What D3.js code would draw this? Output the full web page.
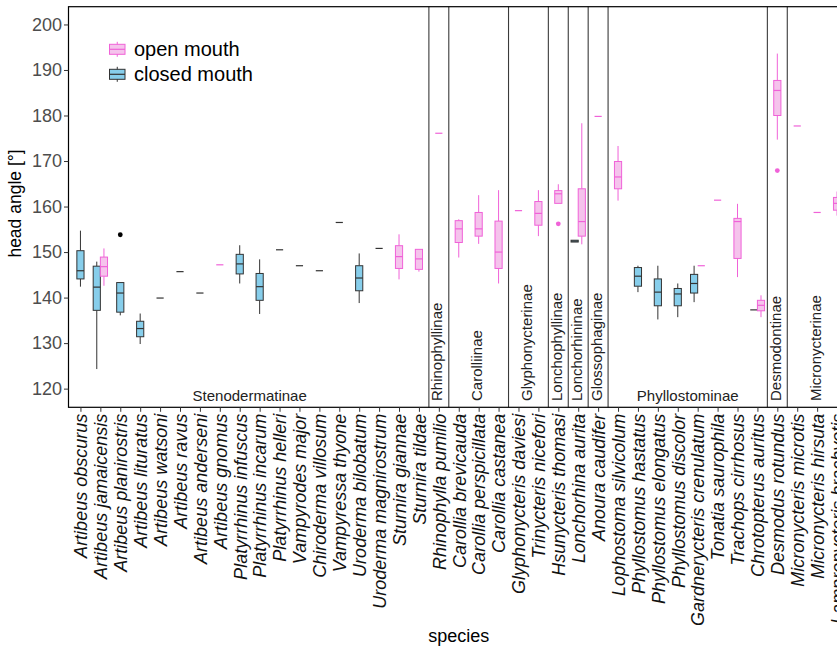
<!DOCTYPE html>
<html>
<head>
<meta charset="utf-8">
<script src="https://cdn.jsdelivr.net/npm/d3@7"></script>
<style>
  html, body { margin: 0; padding: 0; background: #fff; }
  svg { display: block; }
</style>
</head>
<body>
<svg id="chart" width="837" height="647"></svg>
<script>
// ---------- DATA ----------
const species = [
  "Artibeus obscurus","Artibeus jamaicensis","Artibeus planirostris","Artibeus lituratus",
  "Artibeus watsoni","Artibeus ravus","Artibeus anderseni","Artibeus gnomus",
  "Platyrrhinus infuscus","Platyrrhinus incarum","Platyrrhinus helleri","Vampyrodes major",
  "Chiroderma villosum","Vampyressa thyone","Uroderma bilobatum","Uroderma magnirostrum",
  "Sturnira giannae","Sturnira tildae","Rhinophylla pumilio","Carollia brevicauda",
  "Carollia perspicillata","Carollia castanea","Glyphonycteris daviesi","Trinycteris nicefori",
  "Hsunycteris thomasi","Lonchorhina aurita","Anoura caudifer","Lophostoma silvicolum",
  "Phyllostomus hastatus","Phyllostomus elongatus","Phyllostomus discolor","Gardnerycteris crenulatum",
  "Tonatia saurophila","Trachops cirrhosus","Chrotopterus auritus","Desmodus rotundus",
  "Micronycteris microtis","Micronycteris hirsuta","Lampronycteris brachyotis"
];

// subfamily name and number of species (in order)
const families = [
  ["Stenodermatinae", 18], ["Rhinophyllinae", 1], ["Carolliinae", 3], ["Glyphonycterinae", 2],
  ["Lonchophyllinae", 1], ["Lonchorhininae", 1], ["Glossophaginae", 1], ["Phyllostominae", 8],
  ["Desmodontinae", 1], ["Micronycterinae", 3]
];

// [species, lower whisker, Q1, median, Q3, upper whisker]
const closedBoxes = [
  ["Artibeus obscurus", 142.4, 144.1, 145.9, 150.3, 154.7],
  ["Artibeus jamaicensis", 124.3, 137.2, 142.3, 146.9, 147.9],
  ["Artibeus planirostris", 136.1, 136.8, 141.0, 143.3, 143.3],
  ["Artibeus lituratus", 129.8, 131.4, 133.2, 134.8, 136.5],
  ["Artibeus watsoni", 139.9, 139.9, 139.9, 139.9, 139.9],
  ["Artibeus ravus", 145.7, 145.7, 145.7, 145.7, 145.7],
  ["Artibeus anderseni", 141.0, 141.0, 141.0, 141.0, 141.0],
  ["Platyrrhinus infuscus", 143.1, 145.2, 147.4, 149.5, 151.5],
  ["Platyrrhinus incarum", 136.4, 139.4, 142.4, 145.3, 148.4],
  ["Platyrrhinus helleri", 150.5, 150.5, 150.5, 150.5, 150.5],
  ["Vampyrodes major", 147.0, 147.0, 147.0, 147.0, 147.0],
  ["Chiroderma villosum", 145.9, 145.9, 145.9, 145.9, 145.9],
  ["Vampyressa thyone", 156.5, 156.5, 156.5, 156.5, 156.5],
  ["Uroderma bilobatum", 138.8, 141.5, 144.3, 147.0, 149.7],
  ["Uroderma magnirostrum", 150.8, 150.8, 150.8, 150.8, 150.8],
  ["Lonchorhina aurita", 152.2, 152.2, 152.4, 152.6, 152.6],
  ["Phyllostomus hastatus", 141.2, 142.5, 144.7, 146.6, 147.0],
  ["Phyllostomus elongatus", 135.2, 138.2, 141.2, 144.1, 147.0],
  ["Phyllostomus discolor", 135.7, 138.2, 140.8, 142.0, 143.1],
  ["Gardnerycteris crenulatum", 139.0, 141.0, 143.1, 145.1, 147.0],
  ["Chrotopterus auritus", 137.3, 137.3, 137.3, 137.3, 137.3]
];

const openBoxes = [
  ["Artibeus jamaicensis", 142.6, 144.7, 146.8, 148.9, 150.8],
  ["Artibeus gnomus", 147.2, 147.2, 147.2, 147.2, 147.2],
  ["Sturnira giannae", 144.0, 146.4, 149.0, 151.4, 153.9],
  ["Sturnira tildae", 145.7, 146.2, 148.5, 150.6, 150.6],
  ["Rhinophylla pumilio", 176.1, 176.1, 176.1, 176.1, 176.1],
  ["Carollia brevicauda", 148.8, 152.1, 155.1, 156.9, 157.2],
  ["Carollia perspicillata", 151.8, 153.5, 155.1, 158.7, 162.5],
  ["Carollia castanea", 143.1, 146.4, 150.0, 156.8, 163.6],
  ["Glyphonycteris daviesi", 159.1, 159.1, 159.1, 159.1, 159.1],
  ["Trinycteris nicefori", 153.5, 155.9, 158.5, 161.1, 163.6],
  ["Hsunycteris thomasi", 160.7, 160.7, 162.8, 163.5, 164.9],
  ["Lonchorhina aurita", 151.7, 153.5, 156.7, 163.9, 178.3],
  ["Anoura caudifer", 179.8, 179.8, 179.8, 179.8, 179.8],
  ["Lophostoma silvicolum", 161.3, 163.9, 166.5, 169.9, 173.3],
  ["Gardnerycteris crenulatum", 147.0, 147.0, 147.0, 147.0, 147.0],
  ["Tonatia saurophila", 161.4, 161.4, 161.4, 161.4, 161.4],
  ["Trachops cirrhosus", 144.5, 148.6, 156.7, 157.4, 160.6],
  ["Chrotopterus auritus", 135.7, 137.1, 138.3, 139.4, 140.5],
  ["Desmodus rotundus", 174.7, 180.0, 185.5, 187.7, 193.6],
  ["Micronycteris microtis", 177.7, 177.7, 177.7, 177.7, 177.7],
  ["Micronycteris hirsuta", 158.7, 158.7, 158.7, 158.7, 158.7],
  ["Lampronycteris brachyotis", 158.0, 159.2, 160.7, 162.0, 163.3]
];

// [species, value]
const closedOutliers = [["Artibeus planirostris", 153.8]];
const openOutliers = [["Hsunycteris thomasi", 156.2], ["Desmodus rotundus", 167.9]];

const yTicks = [120, 130, 140, 150, 160, 170, 180, 190, 200];
const legendLabels = ["open mouth", "closed mouth"];

// ---------- LAYOUT ----------
const svg = d3.select("#chart");
const panel = { left: 68.5, top: 6.7, bottom: 407.3, right: 849 };
const n = species.length;
const step = (panel.right - panel.left) / (n - 1 + 1.2);

const x = d3.scalePoint().domain(species)
  .range([panel.left + 0.6 * step, panel.right - 0.6 * step]);
const y = d3.scaleLinear().domain([115.9, 203.9]).range([panel.bottom, panel.top]);

const boxW = step * 0.36;
const styles = {
  open:   { fill: "#f5c3ec", stroke: "#f062d8" },
  closed: { fill: "#87ceeb", stroke: "#333333" }
};

const sansFont = "'Liberation Sans', Arial, sans-serif";

// panel background
svg.append("rect")
  .attr("x", panel.left).attr("y", panel.top)
  .attr("width", panel.right - panel.left).attr("height", panel.bottom - panel.top)
  .attr("fill", "#fff");

// family separators & labels
let idx = 0;
const famG = svg.append("g");
families.forEach(([name, count], fi) => {
  const first = species[idx], last = species[idx + count - 1];
  const mid = (x(first) + x(last)) / 2;
  if (fi > 0) {
    const sx = (x(species[idx - 1]) + x(first)) / 2;
    famG.append("line")
      .attr("x1", sx).attr("x2", sx).attr("y1", panel.top).attr("y2", panel.bottom)
      .attr("stroke", "#3a3a3a").attr("stroke-width", 1.1);
  }
  if (count > 3) {
    famG.append("text")
      .attr("x", mid).attr("y", 401)
      .attr("text-anchor", "middle")
      .attr("font-family", sansFont).attr("font-size", 15)
      .attr("fill", "#222")
      .text(name);
  } else {
    famG.append("text")
      .attr("transform", `translate(${mid + 3.6},401) rotate(-90)`)
      .attr("text-anchor", "start")
      .attr("font-family", sansFont).attr("font-size", 15)
      .attr("fill", "#222")
      .text(name);
  }
  idx += count;
});

// boxes
const closedSet = new Set(closedBoxes.map(d => d[0]));
const openSet = new Set(openBoxes.map(d => d[0]));
function centerX(sp, state) {
  const both = closedSet.has(sp) && openSet.has(sp);
  if (!both) return x(sp);
  return state === "closed" ? x(sp) - boxW / 2 : x(sp) + boxW / 2;
}

function drawBoxes(data, state) {
  const st = styles[state];
  const g = svg.append("g");
  data.forEach(([sp, lo, q1, med, q3, hi]) => {
    const cx = centerX(sp, state);
    g.append("line").attr("x1", cx).attr("x2", cx).attr("y1", y(hi)).attr("y2", y(q3))
      .attr("stroke", st.stroke).attr("stroke-width", 1);
    g.append("line").attr("x1", cx).attr("x2", cx).attr("y1", y(q1)).attr("y2", y(lo))
      .attr("stroke", st.stroke).attr("stroke-width", 1);
    g.append("rect")
      .attr("x", cx - boxW / 2).attr("width", boxW)
      .attr("y", y(q3)).attr("height", Math.max(0, y(q1) - y(q3)))
      .attr("fill", st.fill).attr("stroke", st.stroke).attr("stroke-width", 1);
    g.append("line")
      .attr("x1", cx - boxW / 2).attr("x2", cx + boxW / 2)
      .attr("y1", y(med)).attr("y2", y(med))
      .attr("stroke", st.stroke).attr("stroke-width", 1.2);
  });
}
drawBoxes(closedBoxes, "closed");
drawBoxes(openBoxes, "open");

function drawOutliers(data, state, color) {
  svg.append("g").selectAll("circle").data(data).join("circle")
    .attr("cx", d => centerX(d[0], state)).attr("cy", d => y(d[1]))
    .attr("r", 2.4).attr("fill", color);
}
drawOutliers(closedOutliers, "closed", "#000");
drawOutliers(openOutliers, "open", styles.open.stroke);

// panel border
svg.append("rect")
  .attr("x", panel.left).attr("y", panel.top)
  .attr("width", panel.right - panel.left).attr("height", panel.bottom - panel.top)
  .attr("fill", "none").attr("stroke", "#000").attr("stroke-width", 1.2);

// y axis
const yAxis = svg.append("g")
  .attr("transform", `translate(${panel.left},0)`)
  .call(d3.axisLeft(y).tickValues(yTicks).tickSize(4.5).tickPadding(2));
yAxis.select(".domain").remove();
yAxis.selectAll(".tick line").attr("stroke", "#333");
yAxis.selectAll(".tick text")
  .attr("font-family", sansFont).attr("font-size", 18).attr("fill", "#4d4d4d");

// x axis
const xAxis = svg.append("g")
  .attr("transform", `translate(0,${panel.bottom})`)
  .call(d3.axisBottom(x).tickSize(4.5).tickPadding(2));
xAxis.select(".domain").remove();
xAxis.selectAll(".tick line").attr("stroke", "#333");
xAxis.selectAll(".tick text")
  .attr("font-family", sansFont).attr("font-size", 18).attr("font-style", "italic")
  .attr("fill", "#111")
  .attr("x", -6.5).attr("y", 0).attr("dy", "0.35em")
  .attr("transform", "rotate(-90)")
  .style("text-anchor", "end");

// axis titles
svg.append("text")
  .attr("transform", "translate(21,203.5) rotate(-90)")
  .attr("text-anchor", "middle")
  .attr("font-family", sansFont).attr("font-size", 17.5).attr("fill", "#000")
  .text("head angle [°]");
svg.append("text")
  .attr("x", (panel.left + panel.right) / 2).attr("y", 641.5)
  .attr("text-anchor", "middle")
  .attr("font-family", sansFont).attr("font-size", 18).attr("fill", "#000")
  .text("species");

// legend
const legend = svg.append("g");
const legendStates = ["open", "closed"];
legendStates.forEach((state, i) => {
  const st = styles[state];
  const cy = 49.3 + i * 25;
  const kx = 109.5, kw = 15.5;
  legend.append("line").attr("x1", kx + kw / 2).attr("x2", kx + kw / 2)
    .attr("y1", cy - 7.5).attr("y2", cy + 7.5)
    .attr("stroke", st.stroke).attr("stroke-width", 1);
  legend.append("rect").attr("x", kx).attr("y", cy - 5).attr("width", kw).attr("height", 10)
    .attr("fill", st.fill).attr("stroke", st.stroke).attr("stroke-width", 1);
  legend.append("line").attr("x1", kx).attr("x2", kx + kw).attr("y1", cy).attr("y2", cy)
    .attr("stroke", st.stroke).attr("stroke-width", 1.2);
  legend.append("text")
    .attr("x", 134).attr("y", cy + 7)
    .attr("font-family", sansFont).attr("font-size", 20).attr("fill", "#000")
    .text(legendLabels[i]);
});
</script>
</body>
</html>
